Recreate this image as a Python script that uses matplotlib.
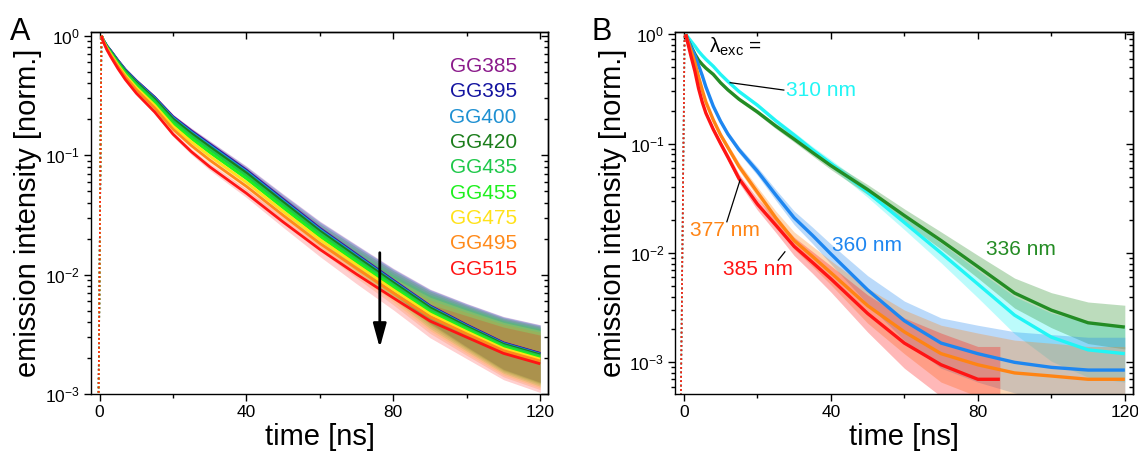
import numpy as np
import matplotlib
matplotlib.use("Agg")
import matplotlib.pyplot as plt
from matplotlib.ticker import FixedLocator, NullFormatter

plt.rcParams['font.family'] = ['Liberation Sans', 'DejaVu Sans']
plt.rcParams['mathtext.fontset'] = 'custom'
plt.rcParams['mathtext.rm'] = 'Liberation Sans'
plt.rcParams['mathtext.it'] = 'Liberation Sans:italic'

# ---------------- Panel A data ----------------
tA = [0.5, 1, 2, 3, 5, 7, 10, 15, 20, 25, 30, 40, 50, 60, 70, 80, 90, 100, 110, 120]
gg385 = [1.0, 0.92, 0.82, 0.75, 0.62, 0.52, 0.42, 0.305, 0.21, 0.16, 0.124, 0.075, 0.0428, 0.0245, 0.0148, 0.0090, 0.0055, 0.0038, 0.0027, 0.0022]
gg395 = [1.0, 0.919, 0.818, 0.748, 0.617, 0.517, 0.417, 0.303, 0.208, 0.158, 0.123, 0.0742, 0.0423, 0.0242, 0.01465, 0.0089, 0.00545, 0.00378, 0.00268, 0.00219]
gg400 = [1.0, 0.918, 0.816, 0.744, 0.614, 0.514, 0.414, 0.300, 0.206, 0.156, 0.121, 0.0731, 0.0417, 0.0239, 0.01447, 0.0088, 0.0054, 0.00374, 0.00266, 0.00217]
gg420 = [1.0, 0.915, 0.811, 0.738, 0.606, 0.506, 0.407, 0.294, 0.201, 0.152, 0.1174, 0.071, 0.0405, 0.0232, 0.0141, 0.0086, 0.0053, 0.00368, 0.00262, 0.00214]
gg435 = [1.0, 0.912, 0.803, 0.728, 0.595, 0.495, 0.395, 0.284, 0.193, 0.145, 0.1117, 0.0674, 0.0385, 0.0222, 0.01349, 0.00826, 0.0051, 0.00358, 0.00256, 0.00209]
gg455 = [1.0, 0.907, 0.795, 0.716, 0.582, 0.482, 0.382, 0.2735, 0.1848, 0.1378, 0.1055, 0.0637, 0.0364, 0.0210, 0.01285, 0.0079, 0.0049, 0.00347, 0.00249, 0.00203]
gg475 = [1.0, 0.902, 0.785, 0.703, 0.568, 0.468, 0.368, 0.2615, 0.175, 0.1293, 0.0985, 0.0593, 0.0339, 0.0197, 0.0121, 0.00748, 0.0047, 0.00334, 0.00241, 0.00197]
gg495 = [1.0, 0.897, 0.775, 0.690, 0.5525, 0.4525, 0.353, 0.2487, 0.165, 0.1203, 0.091, 0.0548, 0.0314, 0.0183, 0.0113, 0.00704, 0.00446, 0.0032, 0.00232, 0.0019]
gg515 = [1.0, 0.89, 0.76, 0.67, 0.53, 0.43, 0.33, 0.23, 0.15, 0.107, 0.080, 0.048, 0.0276, 0.0163, 0.0101, 0.0064, 0.0041, 0.0030, 0.0022, 0.0018]
# scatter half-width of the noisy data (decades)
spreadA = [0.0, 0.005, 0.008, 0.01, 0.012, 0.013, 0.015, 0.018, 0.02, 0.024, 0.028, 0.035, 0.045, 0.06, 0.08, 0.1, 0.14, 0.18, 0.22, 0.24]
labelsA = ['GG385', 'GG395', 'GG400', 'GG420', 'GG435', 'GG455', 'GG475', 'GG495', 'GG515']
colorsA = ['#8b1a8b', '#1414a0', '#1e90d2', '#1b7d1b', '#1ec84a', '#1ef01e', '#ffe21a', '#ff8a1a', '#ff1414']
riseA_t = [-0.3, 0.5]
riseA_y = [8e-4, 1.0]
arrowA_t = 76.3
arrowA_y = [0.0153, 0.00245]

# ---------------- Panel B data ----------------
tB = [0.5, 1, 2, 3, 4, 5, 6, 8, 10, 12, 15, 20, 25, 30, 35, 40, 50, 60, 70, 80, 90, 100, 110, 120]
nm310 = [1.0, 0.95, 0.86, 0.78, 0.70, 0.64, 0.59, 0.51, 0.43, 0.37, 0.30, 0.225, 0.162, 0.12, 0.088, 0.066, 0.036, 0.019, 0.0100, 0.0052, 0.0027, 0.0017, 0.0013, 0.0012]
nm336 = [1.0, 0.90, 0.77, 0.66, 0.58, 0.53, 0.49, 0.43, 0.36, 0.31, 0.255, 0.195, 0.145, 0.11, 0.083, 0.063, 0.038, 0.022, 0.013, 0.0075, 0.0043, 0.0030, 0.0023, 0.0021]
nm360 = [1.0, 0.90, 0.76, 0.64, 0.52, 0.42, 0.33, 0.22, 0.16, 0.122, 0.088, 0.056, 0.034, 0.021, 0.0145, 0.0098, 0.0046, 0.0024, 0.0015, 0.0012, 0.0010, 0.0009, 0.00085, 0.00085]
nm377 = [1.0, 0.88, 0.70, 0.55, 0.41, 0.31, 0.24, 0.165, 0.12, 0.092, 0.062, 0.036, 0.021, 0.013, 0.0093, 0.0066, 0.0033, 0.0019, 0.0012, 0.00095, 0.0008, 0.00075, 0.0007, 0.0007]
tB_385 = [0.5, 1, 2, 3, 4, 5, 6, 8, 10, 12, 15, 20, 25, 30, 35, 40, 50, 60, 70, 80, 86]
nm385 = [1.0, 0.85, 0.62, 0.46, 0.32, 0.24, 0.19, 0.135, 0.10, 0.075, 0.048, 0.028, 0.018, 0.0115, 0.0082, 0.0058, 0.0028, 0.0015, 0.00095, 0.0007, 0.0007]
spread310 = [0.005, 0.009, 0.01, 0.01, 0.011, 0.011, 0.012, 0.013, 0.014, 0.015, 0.016, 0.019, 0.022, 0.026, 0.03, 0.035, 0.047, 0.065, 0.09, 0.125, 0.17, 0.22, 0.25, 0.26]
spread336 = [0.005, 0.009, 0.01, 0.011, 0.012, 0.012, 0.013, 0.014, 0.015, 0.016, 0.018, 0.02, 0.024, 0.027, 0.031, 0.036, 0.046, 0.061, 0.079, 0.104, 0.137, 0.16, 0.19, 0.2]
spread360 = [0.005, 0.009, 0.01, 0.011, 0.012, 0.014, 0.016, 0.019, 0.022, 0.026, 0.03, 0.038, 0.049, 0.062, 0.075, 0.091, 0.13, 0.18, 0.23, 0.26, 0.28, 0.3, 0.3, 0.3]
spread377 = [0.005, 0.01, 0.011, 0.012, 0.014, 0.016, 0.018, 0.022, 0.026, 0.03, 0.036, 0.047, 0.062, 0.079, 0.093, 0.11, 0.16, 0.2, 0.26, 0.29, 0.3, 0.3, 0.3, 0.3]
spread385 = [0.005, 0.01, 0.011, 0.013, 0.016, 0.018, 0.021, 0.024, 0.028, 0.033, 0.041, 0.054, 0.067, 0.084, 0.1, 0.12, 0.17, 0.23, 0.29, 0.3, 0.3]
labelsB = ['310 nm', '336 nm', '360 nm', '377 nm', '385 nm']
colorsB = ['#22f5f5', '#248c24', '#1e86f0', '#ff8414', '#ff1414']
riseB_t = [-0.8, 0.2]
riseB_y = [5e-4, 1.0]


def band(ax, t, y, s, color, lw, alpha=0.3):
    t = np.asarray(t, float)
    y = np.asarray(y, float)
    s = np.asarray(s, float)
    ax.fill_between(t, y * 10 ** (-s), y * 10 ** s, color=color, alpha=alpha, lw=0)
    ax.plot(t, y, color=color, lw=lw, solid_capstyle='butt', solid_joinstyle='round')


def style_axes(ax, ylim):
    ax.set_yscale('log')
    ax.set_xlim(-2.3, 122.1)
    ax.set_ylim(*ylim)
    ax.xaxis.set_major_locator(FixedLocator([0, 40, 80, 120]))
    ax.xaxis.set_minor_locator(FixedLocator([20, 60, 100]))
    ax.tick_params(which='major', direction='out', length=5, width=1.0, labelsize=12.5,
                   top=False, right=False, pad=3)
    ax.tick_params(which='minor', direction='out', length=3, width=1.0, top=False, right=False)
    for sp in ax.spines.values():
        sp.set_linewidth(1.0)
    secx = ax.secondary_xaxis('top')
    secx.xaxis.set_major_locator(FixedLocator([0, 40, 80, 120]))
    secx.xaxis.set_minor_locator(FixedLocator([20, 60, 100]))
    secx.tick_params(which='major', direction='in', length=5, width=1.0, labeltop=False)
    secx.tick_params(which='minor', direction='in', length=3, width=1.0)
    secx.spines['top'].set_linewidth(1.0)
    secy = ax.secondary_yaxis('right')
    secy.tick_params(which='major', direction='in', length=5, width=1.0, labelright=False)
    secy.tick_params(which='minor', direction='in', length=3, width=1.0, labelright=False)
    secy.yaxis.set_major_formatter(NullFormatter())
    secy.yaxis.set_minor_formatter(NullFormatter())
    secy.spines['right'].set_linewidth(1.0)
    ax.set_xlabel('time [ns]', fontsize=21, labelpad=2)
    ax.set_ylabel('emission intensity [norm.]', fontsize=21, labelpad=2)


fig = plt.figure(figsize=(11.38, 4.62), dpi=100)
axA = fig.add_axes([0.0801, 0.1465, 0.4014, 0.7849])
axB = fig.add_axes([0.5935, 0.1465, 0.4017, 0.7849])

# Panel A
seriesA = [gg385, gg395, gg400, gg420, gg435, gg455, gg475, gg495, gg515]
for y, c in zip(seriesA, colorsA):
    band(axA, tA, y, spreadA, c, 2.0, alpha=0.2)
    axA.plot(riseA_t, riseA_y, color=c, lw=1.2, ls=':')
style_axes(axA, (1e-3, 1.08))
for i, (lab, c) in enumerate(zip(labelsA, colorsA)):
    axA.text(0.9315, 0.9035 - i * 0.0698, lab, color=c, fontsize=15,
             ha='right', va='center', transform=axA.transAxes)
axA.annotate('', xy=(arrowA_t, arrowA_y[1]), xytext=(arrowA_t, arrowA_y[0]),
             arrowprops=dict(arrowstyle='-|>,head_length=0.8,head_width=0.22',
                             lw=2.0, color='black', mutation_scale=18, shrinkA=0, shrinkB=0))

# Panel B
seriesB = [(tB, nm310, spread310), (tB, nm336, spread336), (tB, nm360, spread360),
           (tB, nm377, spread377), (tB_385, nm385, spread385)]
for (t, y, s), c in zip(seriesB, colorsB):
    band(axB, t, y, s, c, 2.4)
    axB.plot(riseB_t, riseB_y, color=c, lw=1.2, ls=':')
style_axes(axB, (5.1e-4, 1.056))

axB.text(0.0735, 0.942, r'$\mathregular{λ_{exc}}$ =', fontsize=15, ha='left', va='baseline',
         transform=axB.transAxes)
textpos = {'310 nm': (0.242, 0.838), '336 nm': (0.6795, 0.400), '360 nm': (0.3435, 0.410),
           '377 nm': (0.0319, 0.453), '385 nm': (0.1033, 0.343)}
for lab, c in zip(labelsB, colorsB):
    x, y = textpos[lab]
    axB.text(x, y, lab, color=c, fontsize=15, ha='left', va='center', transform=axB.transAxes)
axB.plot([12.6, 27.2], [0.361, 0.309], color='black', lw=0.9)
axB.plot([15.3, 11.7], [0.0464, 0.0193], color='black', lw=0.9)
axB.plot([27.5, 25.7], [0.01025, 0.0086], color='black', lw=0.9)

fig.text(0.0088, 0.9134, 'A', fontsize=22, ha='left', va='baseline')
fig.text(0.520, 0.9134, 'B', fontsize=22, ha='left', va='baseline')

fig.savefig('out.png', dpi=100)
